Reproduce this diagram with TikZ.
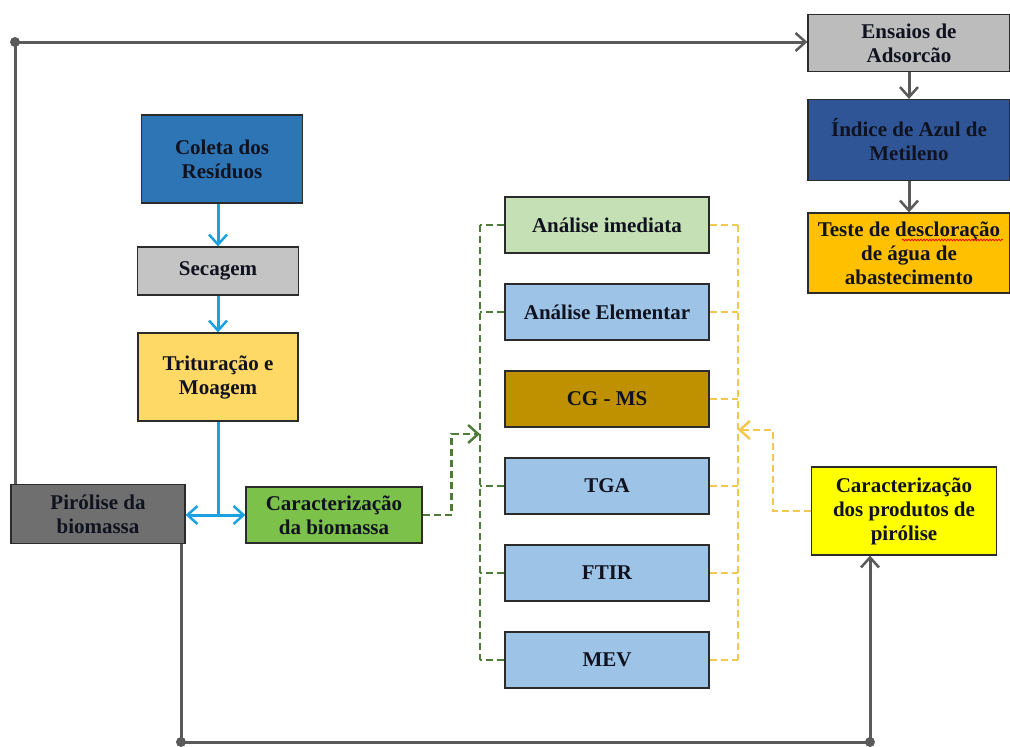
\documentclass[tikz,border=0pt]{standalone}
\usepackage{fontspec}
\setmainfont{Liberation Serif}
\usetikzlibrary{arrows.meta,decorations.pathmorphing}

\definecolor{boxline}{HTML}{2B2B2B}
\definecolor{textdark}{HTML}{10131F}
\definecolor{flowgray}{HTML}{5A5A5A}
\definecolor{flowblue}{HTML}{1BA1E2}
\definecolor{flowgreen}{HTML}{4E7A3A}
\definecolor{flowyellow}{HTML}{F2C94C}
\definecolor{coletafill}{HTML}{2E75B6}
\definecolor{secagemfill}{HTML}{C4C4C4}
\definecolor{triturafill}{HTML}{FFD966}
\definecolor{pirolisefill}{HTML}{6F6F6F}
\definecolor{carbiofill}{HTML}{7CC14A}
\definecolor{imediatafill}{HTML}{C5E0B4}
\definecolor{analisefill}{HTML}{9DC3E6}
\definecolor{cgmsfill}{HTML}{BF9000}
\definecolor{ensaiosfill}{HTML}{BCBCBC}
\definecolor{indicefill}{HTML}{2F5597}
\definecolor{testefill}{HTML}{FFC000}
\definecolor{prodcarfill}{HTML}{FFFF00}

\tikzset{
  box/.style={draw=boxline, line width=1.2pt, align=center, inner sep=0pt,
    text=textdark, font=\bfseries\fontsize{21}{24}\selectfont},
  grayflow/.style={draw=flowgray, line width=3pt},
  blueflow/.style={draw=flowblue, line width=3pt},
  greenflow/.style={draw=flowgreen, line width=2.5pt, dash pattern=on 7pt off 4pt},
  yellowflow/.style={draw=flowyellow, line width=2.5pt, dash pattern=on 7pt off 4pt},
  tip/.style={-{Straight Barb[length=10pt,width=18pt,line width=2.5pt]}}
}

\begin{document}
\begin{tikzpicture}[x=1pt,y=-1pt]
		\useasboundingbox (0,0) rectangle (1010,747);
		
		% Preparation of the biomass
		\node[box, fill=coletafill, minimum width=161, minimum height=88] (coleta) at (222,159) {Coleta dos\\Resíduos};
		\node[box, fill=secagemfill, minimum width=161, minimum height=48] (secagem) at (218,271) {Secagem};
		\node[box, fill=triturafill, minimum width=160, minimum height=88] (tritura) at (218,377) {Trituração e\\Moagem};
		\node[box, fill=pirolisefill, minimum width=174, minimum height=59] (pirolise) at (98,514) {Pirólise da\\biomassa};
		\node[box, fill=carbiofill, minimum width=176, minimum height=56] (carbio) at (334,515) {Caracterização\\da biomassa};
		
		% Analyses
		\node[box, fill=imediatafill, minimum width=204, minimum height=56] (imediata) at (607,225) {Análise imediata};
		\node[box, fill=analisefill, minimum width=204, minimum height=56] (elementar) at (607,312) {Análise Elementar};
		\node[box, fill=cgmsfill, minimum width=204, minimum height=56] (cgms) at (607,399) {CG - MS};
		\node[box, fill=analisefill, minimum width=204, minimum height=56] (tga) at (607,486) {TGA};
		\node[box, fill=analisefill, minimum width=204, minimum height=56] (ftir) at (607,573) {FTIR};
		\node[box, fill=analisefill, minimum width=204, minimum height=56] (mev) at (607,660) {MEV};
		
		% Adsorption tests
		\node[box, fill=ensaiosfill, minimum width=202, minimum height=57] (ensaios) at (909,43) {Ensaios de\\Adsorcão};
		\node[box, fill=indicefill, minimum width=202, minimum height=81] (indice) at (909,140) {Índice de Azul de\\Metileno};
		\node[box, fill=testefill, minimum width=202, minimum height=80] (teste) at (909,253) {Teste de descloração\\de água de\\abastecimento};
		\node[box, fill=prodcarfill, minimum width=185, minimum height=88] (prodcar) at (904,511) {Caracterização\\dos produtos de\\pirólise};
		
		% Spell-check mark under "descloração"
		\draw[red, line width=0.7pt, decorate, decoration={snake, amplitude=0.9pt, segment length=3pt}] (902,240) -- (1003,240);
		
		% Blue flow
		\draw[blueflow, tip] (coleta.south -| secagem.north) -- (secagem.north);
		\draw[blueflow, tip] (secagem.south) -- (tritura.north);
		\coordinate (split) at (218,515);
		\draw[blueflow] (tritura.south) -- (split);
		\draw[blueflow, tip] (split) -- (pirolise.east |- split);
		\draw[blueflow, tip] (split) -- (carbio.west);
		
		% Gray loop at the top and the bottom
		\coordinate (tl) at (15,42);
		\coordinate (bl) at (181,742);
		\coordinate (br) at (870,742);
		\draw[grayflow, tip] (tl |- pirolise.north) -- (tl) -- (tl -| ensaios.west);
		\draw[grayflow, tip] (bl |- pirolise.south) -- (bl) -- (br) -- (br |- prodcar.south);
		\fill[flowgray] (tl) circle (5) (bl) circle (5) (br) circle (5);
		\draw[grayflow, tip] (ensaios.south) -- (indice.north);
		\draw[grayflow, tip] (indice.south) -- (teste.north);
		
		% Green dashed bus
		\coordinate (gin) at (480,434);
		\draw[greenflow, tip] (carbio.east) -- ++(29,0) |- (gin);
		\draw[greenflow] (imediata.west -| gin) -- (mev.west -| gin);
		\foreach \b in {imediata,elementar,tga,ftir,mev}
			\draw[greenflow] (\b.west) -- (\b.west -| gin);
		
		% Yellow dashed bus
		\coordinate (yin) at (738,430);
		\draw[yellowflow, tip] (prodcar.west) -- ++(-38,0) |- (yin);
		\draw[yellowflow] (imediata.east -| yin) -- (mev.east -| yin);
		\foreach \b in {imediata,elementar,cgms,tga,ftir,mev}
			\draw[yellowflow] (\b.east) -- (\b.east -| yin);
		
	\end{tikzpicture}
\end{document}
